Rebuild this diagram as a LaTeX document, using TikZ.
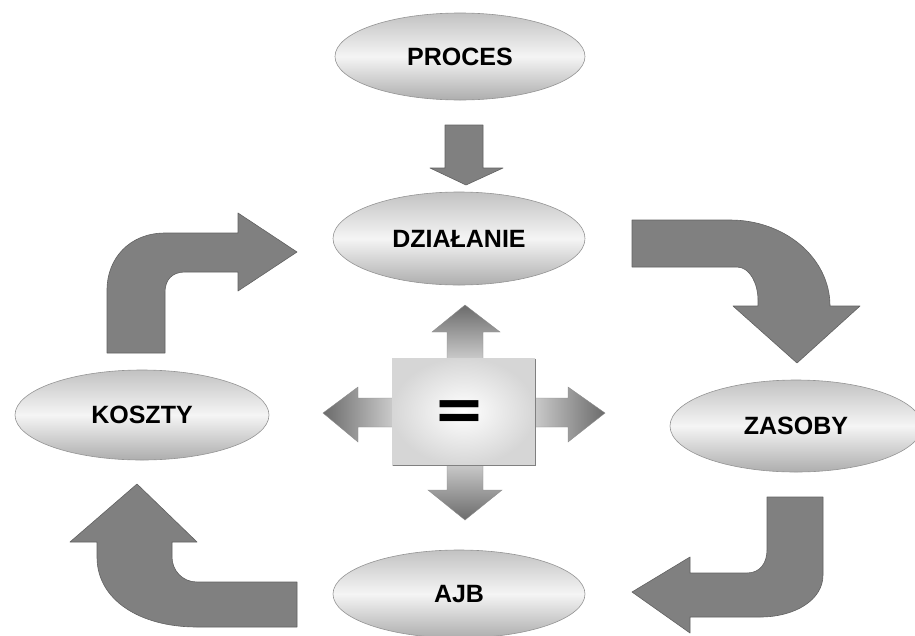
\documentclass[tikz,border=0pt]{standalone}
\usepackage{fontspec}
\setmainfont{Liberation Sans}
\newfontfamily\labelfont{Liberation Sans}
\newfontfamily\signfont{DejaVu Sans}
\usetikzlibrary{shapes.geometric}
\begin{document}
\begin{tikzpicture}[x=1pt,y=-1pt,
  oval/.style={ellipse, inner sep=0pt, minimum width=252pt, minimum height=90pt,
    top color=black!24, bottom color=black!32, middle color=white!96!black,
    draw=black!42, line width=0.6pt,
    font=\labelfont\bfseries\fontsize{25}{26}\selectfont},
  bentarrow/.style={fill=black!50, draw=black!62, line width=0.6pt, line join=round},
  crossarrow/.style={draw=black!45, line width=0.4pt}]
\useasboundingbox (0,0) rectangle (915,635);

% ovals
\node[oval, minimum width=250pt, minimum height=87pt] (proc) at (460,56.5) {PROCES};
\node[oval, minimum height=93pt] (dzial) at (459,238.5) {DZIAŁANIE};
\node[oval, minimum width=254pt] (koszty) at (142,415) {KOSZTY};
\node[oval, minimum height=92pt] (zasoby) at (796,426) {ZASOBY};
\node[oval, minimum height=88pt] (ajb) at (459,594) {AJB};

% straight arrow from PROCES down to DZIAŁANIE
\fill[bentarrow] (445,125) -- (483,125) -- (483,168) -- (503,168) -- (466,185)
  -- (430,168) -- (445,168) -- cycle;

% DZIAŁANIE -> ZASOBY
\fill[bentarrow] (632,220) -- (730,220) .. controls (785,220) and (830,258) .. (830,306)
  -- (860,306) -- (797,363) -- (733,306) -- (758,306) -- (758,300)
  .. controls (758,284) and (750,267) .. (737,267) -- (632,267) -- cycle;

% ZASOBY -> AJB
\fill[bentarrow] (767,497) -- (823,497) -- (823,575) .. controls (823,600) and (795,617) .. (760,617)
  -- (690,617) -- (690,633) -- (632,592) -- (690,557) -- (690,573) -- (747,573)
  .. controls (760,573) and (767,563) .. (767,550) -- cycle;

% AJB -> KOSZTY
\fill[bentarrow] (297,582) -- (297,627) -- (197,627) .. controls (140,627) and (97,600) .. (97,557)
  -- (97,542) -- (70,542) -- (137,484) -- (197,542) -- (172,542) -- (172,557)
  .. controls (172,570) and (182,582) .. (197,582) -- cycle;

% KOSZTY -> DZIAŁANIE
\fill[bentarrow] (107,353) -- (107,290) .. controls (107,258) and (130,233) .. (165,233)
  -- (238,233) -- (238,213) -- (297,252) -- (238,291) -- (238,272) -- (185,272)
  .. controls (172,272) and (165,280) .. (165,292) -- (165,353) -- cycle;

% central cross: four arrows around a shaded square
\path[crossarrow, top color=black!58, bottom color=black!20]
  (447,360) -- (447,332) -- (432,332) -- (465,305) -- (500,332) -- (483,332) -- (483,360) -- cycle;
\path[crossarrow, top color=black!20, bottom color=black!58]
  (447,463) -- (447,490) -- (428,490) -- (465,520) -- (502,490) -- (483,490) -- (483,463) -- cycle;
\path[crossarrow, left color=black!58, right color=black!20]
  (394,398) -- (358,398) -- (358,387) -- (323,413) -- (358,442) -- (358,427) -- (394,427) -- cycle;
\path[crossarrow, left color=black!20, right color=black!58]
  (533,398) -- (568,398) -- (568,387) -- (605,413) -- (568,442) -- (568,427) -- (533,427) -- cycle;

\path[inner color=white, outer color=black!16] (392,358) rectangle (535,465);
\draw[black!50, line width=1pt] (535,359) -- (535,465) -- (393,465);
\node[font=\signfont\bfseries\fontsize{62}{62}\selectfont, inner sep=0pt] (eq) at (459,416) {=};
\end{tikzpicture}
\end{document}
